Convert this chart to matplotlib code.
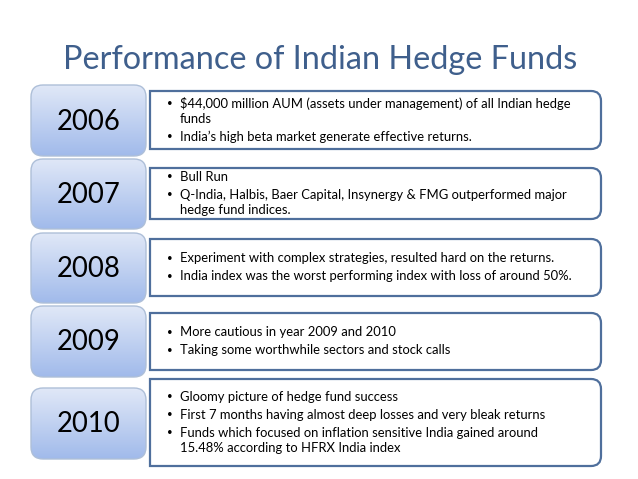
import matplotlib
matplotlib.use("Agg")
import matplotlib.pyplot as plt
import numpy as np
from matplotlib.patches import FancyBboxPatch, PathPatch
from matplotlib.path import Path

plt.rcParams['font.family'] = ['Lato', 'DejaVu Sans']

title = "Performance of Indian Hedge Funds"
years = ["2006", "2007", "2008", "2009", "2010"]
bullets = [
    [["$44,000 million AUM (assets under management) of all Indian hedge", "funds"],
     ["India\u2019s high beta market generate effective returns."]],
    [["Bull Run"],
     ["Q-India, Halbis, Baer Capital, Insynergy & FMG outperformed major", "hedge fund indices."]],
    [["Experiment with complex strategies, resulted hard on the returns."],
     ["India index was the worst performing index with loss of around 50%."]],
    [["More cautious in year 2009 and 2010"],
     ["Taking some worthwhile sectors and stock calls"]],
    [["Gloomy picture of hedge fund success"],
     ["First 7 months having almost deep losses and very bleak returns"],
     ["Funds which focused on inflation sensitive India gained around", "15.48% according to HFRX India index"]],
]

# layout in pixels (y downwards)
year_boxes = [(85, 156), (159, 229), (233, 303), (306, 377), (388, 459)]
text_boxes = [(91, 149), (168, 219), (239, 296), (313, 370), (379, 466)]
YX0, YX1 = 31, 146
TX0, TX1 = 150, 601
WRAP_STEP, ITEM_STEP = 15.2, 18.0

fig = plt.figure(figsize=(6.38, 4.79), dpi=100)
ax = fig.add_axes([0, 0, 1, 1])
ax.set_xlim(0, 638)
ax.set_ylim(479, 0)
ax.axis('off')

ax.text(320, 60, title, ha='center', va='center', fontsize=23.3, color='#3f5f8c')

grad = np.linspace(0, 1, 100).reshape(-1, 1)
top_c = np.array([0.88, 0.91, 0.97])
bot_c = np.array([0.63, 0.73, 0.92])
grad_img = top_c + (bot_c - top_c) * grad[..., None]


def right_round_path(x0, y0, x1, y1, r):
    verts = [(x0, y0), (x1 - r, y0), (x1, y0), (x1, y0 + r),
             (x1, y1 - r), (x1, y1), (x1 - r, y1), (x0, y1), (x0, y0)]
    codes = [Path.MOVETO, Path.LINETO, Path.CURVE3, Path.CURVE3,
             Path.LINETO, Path.CURVE3, Path.CURVE3, Path.LINETO, Path.CLOSEPOLY]
    return Path(verts, codes)


for i, year in enumerate(years):
    y0, y1 = year_boxes[i]
    box = FancyBboxPatch((YX0, y0), YX1 - YX0, y1 - y0,
                         boxstyle="round,pad=0,rounding_size=12",
                         facecolor='none', edgecolor='#aebfd8', lw=1.0, zorder=3)
    ax.add_patch(box)
    im = ax.imshow(grad_img, extent=(YX0, YX1, y1, y0), aspect='auto', zorder=2)
    im.set_clip_path(box)
    ax.text((YX0 + YX1) / 2, (y0 + y1) / 2 + 1, year, ha='center', va='center',
            fontsize=19.8, color='black', zorder=4)

    t0, t1 = text_boxes[i]
    ax.add_patch(PathPatch(right_round_path(TX0, t0, TX1, t1, 10),
                           facecolor='white', edgecolor='#4f6f9c', lw=1.6, zorder=2))

    # line offsets: wrapped lines closer than new bullets
    rows, y = [], 0.0
    for m, item in enumerate(bullets[i]):
        if m > 0:
            y += ITEM_STEP
        for k, ln in enumerate(item):
            if k > 0:
                y += WRAP_STEP
            rows.append((k == 0, ln, y))
    cy = (t0 + t1) / 2
    shift = cy - y / 2
    for first, ln, yy in rows:
        if first:
            ax.text(170, yy + shift, "\u2022", ha='center', va='center', fontsize=7, zorder=4)
        ax.text(180, yy + shift, ln, ha='left', va='center', fontsize=9.4, zorder=4)

fig.savefig("out.png", dpi=100)
